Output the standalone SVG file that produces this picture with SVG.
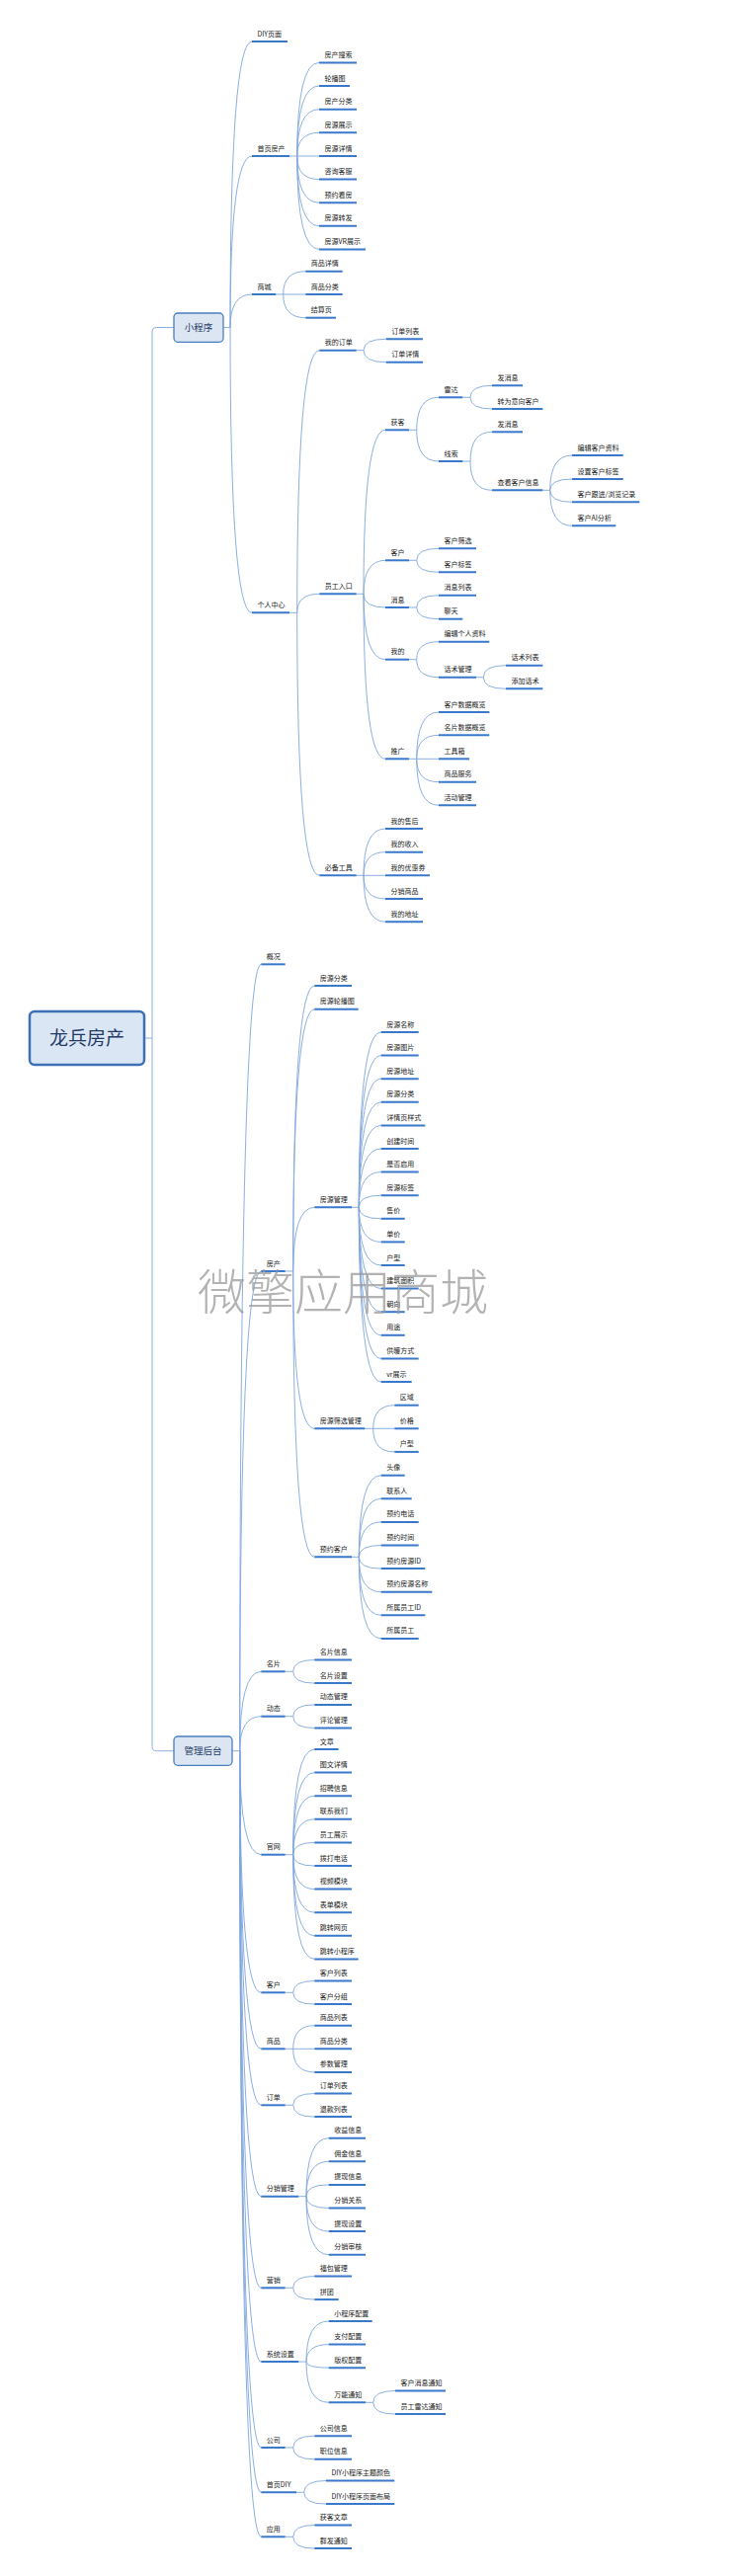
<svg xmlns="http://www.w3.org/2000/svg" width="750" height="2608" viewBox="0 0 750 2608">
<style>
.t{font-family:"Noto Sans CJK SC","Noto Sans",sans-serif;font-size:7px;fill:#222}
.u{stroke:#3a78cc;stroke-width:2}
.c{fill:none;stroke:#7fa6dc;stroke-width:0.9}
.box{fill:#dce6f2;stroke:#4a7ec0;stroke-width:1.3}
.bt{font-family:"Noto Sans CJK SC","Noto Sans",sans-serif;font-size:9.5px;fill:#1f3a66;text-anchor:middle}
</style>
<rect width="750" height="2608" fill="#fff"/>
<g id="connectors">
<path class="c" d="M146 1051 H154 V336 Q154 331.5 158.5 331.5 H176 M154 1051 V1768.2 Q154 1772.7 158.5 1772.7 H176"/>
<path class="c" d="M226 331.5 H233 M233 331.5 Q233 42 255 42 M233 331.5 Q233 158 255 158 M233 331.5 Q233 298 255 298 M233 331.5 Q233 620.3 255 620.3"/>
<path class="c" d="M293 158 H300.7 M300.7 158 Q300.7 63.4 323 63.4 M300.7 158 Q300.7 87 323 87 M300.7 158 Q300.7 110.7 323 110.7 M300.7 158 Q300.7 134.3 323 134.3 M300.7 158 L323 158 M300.7 158 Q300.7 181.6 323 181.6 M300.7 158 Q300.7 205.2 323 205.2 M300.7 158 Q300.7 228.8 323 228.8 M300.7 158 Q300.7 252.4 323 252.4"/>
<path class="c" d="M279.3 298 H286.7 M286.7 298 Q286.7 274.7 309.3 274.7 M286.7 298 L309.3 298 M286.7 298 Q286.7 321.7 309.3 321.7"/>
<path class="c" d="M293 620.3 H300.7 M300.7 620.3 Q300.7 354.7 323.3 354.7 M300.7 620.3 Q300.7 601.3 323.3 601.3 M300.7 620.3 Q300.7 886.3 323.3 886.3"/>
<path class="c" d="M360.7 354.7 H368 M368 354.7 Q368 343.3 390.7 343.3 M368 354.7 Q368 366.7 390.7 366.7"/>
<path class="c" d="M360.7 601.3 H368 M368 601.3 Q368 435.3 390 435.3 M368 601.3 Q368 567.3 390 567.3 M368 601.3 Q368 615 390 615 M368 601.3 Q368 667.7 390 667.7 M368 601.3 Q368 768.3 390 768.3"/>
<path class="c" d="M414 435.3 H421.7 M421.7 435.3 Q421.7 402.3 444 402.3 M421.7 435.3 Q421.7 467 444 467"/>
<path class="c" d="M468.3 402.3 H476 M476 402.3 Q476 390.3 498 390.3 M476 402.3 Q476 414 498 414"/>
<path class="c" d="M468.3 467 H476 M476 467 Q476 437.3 498 437.3 M476 467 Q476 496.3 498 496.3"/>
<path class="c" d="M549.3 496.3 H556.7 M556.7 496.3 Q556.7 461 579 461 M556.7 496.3 Q556.7 485 579 485 M556.7 496.3 Q556.7 508.3 579 508.3 M556.7 496.3 Q556.7 532.3 579 532.3"/>
<path class="c" d="M414 567.3 H421.7 M421.7 567.3 Q421.7 555.3 444 555.3 M421.7 567.3 Q421.7 579.3 444 579.3"/>
<path class="c" d="M414 615 H421.7 M421.7 615 Q421.7 602.7 444 602.7 M421.7 615 Q421.7 626.7 444 626.7"/>
<path class="c" d="M414 667.7 H421.7 M421.7 667.7 Q421.7 649.7 444 649.7 M421.7 667.7 Q421.7 685.7 444 685.7"/>
<path class="c" d="M482 685.7 H489.3 M489.3 685.7 Q489.3 673.7 512 673.7 M489.3 685.7 Q489.3 697.3 512 697.3"/>
<path class="c" d="M414 768.3 H421.7 M421.7 768.3 Q421.7 721 444 721 M421.7 768.3 Q421.7 744.3 444 744.3 M421.7 768.3 L444 768.3 M421.7 768.3 Q421.7 791.7 444 791.7 M421.7 768.3 Q421.7 815.3 444 815.3"/>
<path class="c" d="M360.7 886.3 H368 M368 886.3 Q368 839 390 839 M368 886.3 Q368 862.7 390 862.7 M368 886.3 L390 886.3 M368 886.3 Q368 910 390 910 M368 886.3 Q368 933.3 390 933.3"/>
<path class="c" d="M235 1772.7 H242.7 M242.7 1772.7 Q242.7 976.3 264.3 976.3 M242.7 1772.7 Q242.7 1287 264.3 1287 M242.7 1772.7 Q242.7 1692.3 264.3 1692.3 M242.7 1772.7 Q242.7 1737.7 264.3 1737.7 M242.7 1772.7 Q242.7 1877.7 264.3 1877.7 M242.7 1772.7 Q242.7 2017.3 264.3 2017.3 M242.7 1772.7 Q242.7 2074.3 264.3 2074.3 M242.7 1772.7 Q242.7 2131.3 264.3 2131.3 M242.7 1772.7 Q242.7 2223.7 264.3 2223.7 M242.7 1772.7 Q242.7 2316.3 264.3 2316.3 M242.7 1772.7 Q242.7 2391 264.3 2391 M242.7 1772.7 Q242.7 2478 264.3 2478 M242.7 1772.7 Q242.7 2523.3 264.3 2523.3 M242.7 1772.7 Q242.7 2568.3 264.3 2568.3"/>
<path class="c" d="M288.7 1287 H296.7 M296.7 1287 Q296.7 998 318.3 998 M296.7 1287 Q296.7 1021.7 318.3 1021.7 M296.7 1287 Q296.7 1222.3 318.3 1222.3 M296.7 1287 Q296.7 1446.3 318.3 1446.3 M296.7 1287 Q296.7 1576.3 318.3 1576.3"/>
<path class="c" d="M356 1222.3 H363.3 M363.3 1222.3 Q363.3 1045 385.7 1045 M363.3 1222.3 Q363.3 1068.6 385.7 1068.6 M363.3 1222.3 Q363.3 1092.2 385.7 1092.2 M363.3 1222.3 Q363.3 1115.8 385.7 1115.8 M363.3 1222.3 Q363.3 1139.4 385.7 1139.4 M363.3 1222.3 Q363.3 1163 385.7 1163 M363.3 1222.3 Q363.3 1186.6 385.7 1186.6 M363.3 1222.3 Q363.3 1210.2 385.7 1210.2 M363.3 1222.3 Q363.3 1233.8 385.7 1233.8 M363.3 1222.3 Q363.3 1257.4 385.7 1257.4 M363.3 1222.3 Q363.3 1281 385.7 1281 M363.3 1222.3 Q363.3 1304.6 385.7 1304.6 M363.3 1222.3 Q363.3 1328.2 385.7 1328.2 M363.3 1222.3 Q363.3 1351.8 385.7 1351.8 M363.3 1222.3 Q363.3 1375.4 385.7 1375.4 M363.3 1222.3 Q363.3 1399 385.7 1399"/>
<path class="c" d="M369.3 1446.3 H377.7 M377.7 1446.3 Q377.7 1422.7 399.3 1422.7 M377.7 1446.3 L399.3 1446.3 M377.7 1446.3 Q377.7 1469.9 399.3 1469.9"/>
<path class="c" d="M356 1576.3 H363.3 M363.3 1576.3 Q363.3 1493.7 385.7 1493.7 M363.3 1576.3 Q363.3 1517.3 385.7 1517.3 M363.3 1576.3 Q363.3 1540.9 385.7 1540.9 M363.3 1576.3 Q363.3 1564.5 385.7 1564.5 M363.3 1576.3 Q363.3 1588.1 385.7 1588.1 M363.3 1576.3 Q363.3 1611.7 385.7 1611.7 M363.3 1576.3 Q363.3 1635.3 385.7 1635.3 M363.3 1576.3 Q363.3 1658.9 385.7 1658.9"/>
<path class="c" d="M288.7 1692.3 H296.7 M296.7 1692.3 Q296.7 1680.5 318.3 1680.5 M296.7 1692.3 Q296.7 1704.1 318.3 1704.1"/>
<path class="c" d="M288.7 1737.7 H296.7 M296.7 1737.7 Q296.7 1725.9 318.3 1725.9 M296.7 1737.7 Q296.7 1749.5 318.3 1749.5"/>
<path class="c" d="M288.7 1877.7 H296.7 M296.7 1877.7 Q296.7 1771 318.3 1771 M296.7 1877.7 Q296.7 1794.6 318.3 1794.6 M296.7 1877.7 Q296.7 1818.2 318.3 1818.2 M296.7 1877.7 Q296.7 1841.8 318.3 1841.8 M296.7 1877.7 Q296.7 1865.4 318.3 1865.4 M296.7 1877.7 Q296.7 1889 318.3 1889 M296.7 1877.7 Q296.7 1912.6 318.3 1912.6 M296.7 1877.7 Q296.7 1936.2 318.3 1936.2 M296.7 1877.7 Q296.7 1959.8 318.3 1959.8 M296.7 1877.7 Q296.7 1983.4 318.3 1983.4"/>
<path class="c" d="M288.7 2017.3 H296.7 M296.7 2017.3 Q296.7 2005.5 318.3 2005.5 M296.7 2017.3 Q296.7 2029.1 318.3 2029.1"/>
<path class="c" d="M288.7 2074.3 H296.7 M296.7 2074.3 Q296.7 2050.7 318.3 2050.7 M296.7 2074.3 L318.3 2074.3 M296.7 2074.3 Q296.7 2097.9 318.3 2097.9"/>
<path class="c" d="M288.7 2131.3 H296.7 M296.7 2131.3 Q296.7 2119.5 318.3 2119.5 M296.7 2131.3 Q296.7 2143.1 318.3 2143.1"/>
<path class="c" d="M302.3 2223.7 H310 M310 2223.7 Q310 2164.7 332.7 2164.7 M310 2223.7 Q310 2188.3 332.7 2188.3 M310 2223.7 Q310 2211.9 332.7 2211.9 M310 2223.7 Q310 2235.5 332.7 2235.5 M310 2223.7 Q310 2259.1 332.7 2259.1 M310 2223.7 Q310 2282.7 332.7 2282.7"/>
<path class="c" d="M288.7 2316.3 H296.7 M296.7 2316.3 Q296.7 2304.5 318.3 2304.5 M296.7 2316.3 Q296.7 2328.1 318.3 2328.1"/>
<path class="c" d="M302.3 2391 H310 M310 2391 Q310 2350 332.7 2350 M310 2391 Q310 2373.6 332.7 2373.6 M310 2391 Q310 2397.2 332.7 2397.2 M310 2391 Q310 2432.3 332.7 2432.3"/>
<path class="c" d="M370 2432.3 H377.7 M377.7 2432.3 Q377.7 2420.5 400 2420.5 M377.7 2432.3 Q377.7 2444.1 400 2444.1"/>
<path class="c" d="M288.7 2478 H296.7 M296.7 2478 Q296.7 2466.2 318.3 2466.2 M296.7 2478 Q296.7 2489.8 318.3 2489.8"/>
<path class="c" d="M300 2523.3 H307.7 M307.7 2523.3 Q307.7 2511.5 330 2511.5 M307.7 2523.3 Q307.7 2535.1 330 2535.1"/>
<path class="c" d="M288.7 2568.3 H296.7 M296.7 2568.3 Q296.7 2556.5 318.3 2556.5 M296.7 2568.3 Q296.7 2580.1 318.3 2580.1"/>
</g>
<g id="root"><rect x="30" y="1024" width="116" height="54" rx="5" fill="#dbe6f4" stroke="#3d6fb5" stroke-width="2.5"/><text x="88" y="1058" font-family="Noto Sans CJK SC,Noto Sans,sans-serif" font-size="19" fill="#1f3a66" text-anchor="middle">龙兵房产</text></g>
<g id="mp"><rect class="box" x="176" y="317" width="50" height="29.3" rx="4"/><text class="bt" x="201" y="335">小程序</text></g>
<g id="admin"><rect class="box" x="176" y="1758" width="59" height="29.3" rx="4"/><text class="bt" x="205.5" y="1776">管理后台</text></g>
<g id="mp-diy"><text class="t" x="260.5" y="36.5">DIY页面</text><line class="u" x1="255" y1="42" x2="291" y2="42"/></g>
<g id="mp-home"><text class="t" x="260.5" y="152.5">首页房产</text><line class="u" x1="255" y1="158" x2="293" y2="158"/></g>
<g id="mp-h1"><text class="t" x="328.5" y="57.9">房产搜索</text><line class="u" x1="323" y1="63.4" x2="361" y2="63.4"/></g>
<g id="mp-h2"><text class="t" x="328.5" y="81.5">轮播图</text><line class="u" x1="323" y1="87" x2="354" y2="87"/></g>
<g id="mp-h3"><text class="t" x="328.5" y="105.2">房产分类</text><line class="u" x1="323" y1="110.7" x2="361" y2="110.7"/></g>
<g id="mp-h4"><text class="t" x="328.5" y="128.8">房源展示</text><line class="u" x1="323" y1="134.3" x2="361" y2="134.3"/></g>
<g id="mp-h5"><text class="t" x="328.5" y="152.5">房源详情</text><line class="u" x1="323" y1="158" x2="361" y2="158"/></g>
<g id="mp-h6"><text class="t" x="328.5" y="176.1">咨询客服</text><line class="u" x1="323" y1="181.6" x2="361" y2="181.6"/></g>
<g id="mp-h7"><text class="t" x="328.5" y="199.7">预约看房</text><line class="u" x1="323" y1="205.2" x2="361" y2="205.2"/></g>
<g id="mp-h8"><text class="t" x="328.5" y="223.3">房源转发</text><line class="u" x1="323" y1="228.8" x2="361" y2="228.8"/></g>
<g id="mp-h9"><text class="t" x="328.5" y="246.9">房源VR展示</text><line class="u" x1="323" y1="252.4" x2="370" y2="252.4"/></g>
<g id="mp-shop"><text class="t" x="260.5" y="292.5">商城</text><line class="u" x1="255" y1="298" x2="279.3" y2="298"/></g>
<g id="mp-s1"><text class="t" x="314.8" y="269.2">商品详情</text><line class="u" x1="309.3" y1="274.7" x2="346.7" y2="274.7"/></g>
<g id="mp-s2"><text class="t" x="314.8" y="292.5">商品分类</text><line class="u" x1="309.3" y1="298" x2="346.7" y2="298"/></g>
<g id="mp-s3"><text class="t" x="314.8" y="316.2">结算页</text><line class="u" x1="309.3" y1="321.7" x2="340" y2="321.7"/></g>
<g id="mp-me"><text class="t" x="260.5" y="614.8">个人中心</text><line class="u" x1="255" y1="620.3" x2="293" y2="620.3"/></g>
<g id="mp-order"><text class="t" x="328.8" y="349.2">我的订单</text><line class="u" x1="323.3" y1="354.7" x2="360.7" y2="354.7"/></g>
<g id="mp-o1"><text class="t" x="396.2" y="337.8">订单列表</text><line class="u" x1="390.7" y1="343.3" x2="428" y2="343.3"/></g>
<g id="mp-o2"><text class="t" x="396.2" y="361.2">订单详情</text><line class="u" x1="390.7" y1="366.7" x2="428" y2="366.7"/></g>
<g id="mp-staff"><text class="t" x="328.8" y="595.8">员工入口</text><line class="u" x1="323.3" y1="601.3" x2="360.7" y2="601.3"/></g>
<g id="mp-get"><text class="t" x="395.5" y="429.8">获客</text><line class="u" x1="390" y1="435.3" x2="414" y2="435.3"/></g>
<g id="mp-radar"><text class="t" x="449.5" y="396.8">雷达</text><line class="u" x1="444" y1="402.3" x2="468.3" y2="402.3"/></g>
<g id="mp-r1"><text class="t" x="503.5" y="384.8">发消息</text><line class="u" x1="498" y1="390.3" x2="529" y2="390.3"/></g>
<g id="mp-r2"><text class="t" x="503.5" y="408.5">转为意向客户</text><line class="u" x1="498" y1="414" x2="549.3" y2="414"/></g>
<g id="mp-clue"><text class="t" x="449.5" y="461.5">线索</text><line class="u" x1="444" y1="467" x2="468.3" y2="467"/></g>
<g id="mp-c1"><text class="t" x="503.5" y="431.8">发消息</text><line class="u" x1="498" y1="437.3" x2="529" y2="437.3"/></g>
<g id="mp-c2"><text class="t" x="503.5" y="490.8">查看客户信息</text><line class="u" x1="498" y1="496.3" x2="549.3" y2="496.3"/></g>
<g id="mp-ci1"><text class="t" x="584.5" y="455.5">编辑客户资料</text><line class="u" x1="579" y1="461" x2="630.7" y2="461"/></g>
<g id="mp-ci2"><text class="t" x="584.5" y="479.5">设置客户标签</text><line class="u" x1="579" y1="485" x2="630.7" y2="485"/></g>
<g id="mp-ci3"><text class="t" x="584.5" y="502.8">客户跟进/浏览记录</text><line class="u" x1="579" y1="508.3" x2="647.3" y2="508.3"/></g>
<g id="mp-ci4"><text class="t" x="584.5" y="526.8">客户AI分析</text><line class="u" x1="579" y1="532.3" x2="623.3" y2="532.3"/></g>
<g id="mp-cust"><text class="t" x="395.5" y="561.8">客户</text><line class="u" x1="390" y1="567.3" x2="414" y2="567.3"/></g>
<g id="mp-cu1"><text class="t" x="449.5" y="549.8">客户筛选</text><line class="u" x1="444" y1="555.3" x2="482" y2="555.3"/></g>
<g id="mp-cu2"><text class="t" x="449.5" y="573.8">客户标签</text><line class="u" x1="444" y1="579.3" x2="482" y2="579.3"/></g>
<g id="mp-msg"><text class="t" x="395.5" y="609.5">消息</text><line class="u" x1="390" y1="615" x2="414" y2="615"/></g>
<g id="mp-m1"><text class="t" x="449.5" y="597.2">消息列表</text><line class="u" x1="444" y1="602.7" x2="482" y2="602.7"/></g>
<g id="mp-m2"><text class="t" x="449.5" y="621.2">聊天</text><line class="u" x1="444" y1="626.7" x2="468.3" y2="626.7"/></g>
<g id="mp-mine"><text class="t" x="395.5" y="662.2">我的</text><line class="u" x1="390" y1="667.7" x2="414" y2="667.7"/></g>
<g id="mp-mi1"><text class="t" x="449.5" y="644.2">编辑个人资料</text><line class="u" x1="444" y1="649.7" x2="495.3" y2="649.7"/></g>
<g id="mp-mi2"><text class="t" x="449.5" y="680.2">话术管理</text><line class="u" x1="444" y1="685.7" x2="482" y2="685.7"/></g>
<g id="mp-sp1"><text class="t" x="517.5" y="668.2">话术列表</text><line class="u" x1="512" y1="673.7" x2="549.3" y2="673.7"/></g>
<g id="mp-sp2"><text class="t" x="517.5" y="691.8">添加话术</text><line class="u" x1="512" y1="697.3" x2="549.3" y2="697.3"/></g>
<g id="mp-promo"><text class="t" x="395.5" y="762.8">推广</text><line class="u" x1="390" y1="768.3" x2="414" y2="768.3"/></g>
<g id="mp-p1"><text class="t" x="449.5" y="715.5">客户数据概览</text><line class="u" x1="444" y1="721" x2="495.3" y2="721"/></g>
<g id="mp-p2"><text class="t" x="449.5" y="738.8">名片数据概览</text><line class="u" x1="444" y1="744.3" x2="495.3" y2="744.3"/></g>
<g id="mp-p3"><text class="t" x="449.5" y="762.8">工具箱</text><line class="u" x1="444" y1="768.3" x2="475" y2="768.3"/></g>
<g id="mp-p4"><text class="t" x="449.5" y="786.2">商品服务</text><line class="u" x1="444" y1="791.7" x2="482" y2="791.7"/></g>
<g id="mp-p5"><text class="t" x="449.5" y="809.8">活动管理</text><line class="u" x1="444" y1="815.3" x2="482" y2="815.3"/></g>
<g id="mp-tools"><text class="t" x="328.8" y="880.8">必备工具</text><line class="u" x1="323.3" y1="886.3" x2="360.7" y2="886.3"/></g>
<g id="mp-t1"><text class="t" x="395.5" y="833.5">我的售后</text><line class="u" x1="390" y1="839" x2="428" y2="839"/></g>
<g id="mp-t2"><text class="t" x="395.5" y="857.2">我的收入</text><line class="u" x1="390" y1="862.7" x2="428" y2="862.7"/></g>
<g id="mp-t3"><text class="t" x="395.5" y="880.8">我的优惠券</text><line class="u" x1="390" y1="886.3" x2="435" y2="886.3"/></g>
<g id="mp-t4"><text class="t" x="395.5" y="904.5">分销商品</text><line class="u" x1="390" y1="910" x2="428" y2="910"/></g>
<g id="mp-t5"><text class="t" x="395.5" y="927.8">我的地址</text><line class="u" x1="390" y1="933.3" x2="428" y2="933.3"/></g>
<g id="ad-overview"><text class="t" x="269.8" y="970.8">概况</text><line class="u" x1="264.3" y1="976.3" x2="288.7" y2="976.3"/></g>
<g id="ad-house"><text class="t" x="269.8" y="1281.5">房产</text><line class="u" x1="264.3" y1="1287" x2="288.7" y2="1287"/></g>
<g id="ad-h1"><text class="t" x="323.8" y="992.5">房源分类</text><line class="u" x1="318.3" y1="998" x2="356" y2="998"/></g>
<g id="ad-h2"><text class="t" x="323.8" y="1016.2">房源轮播图</text><line class="u" x1="318.3" y1="1021.7" x2="362.7" y2="1021.7"/></g>
<g id="ad-hm"><text class="t" x="323.8" y="1216.8">房源管理</text><line class="u" x1="318.3" y1="1222.3" x2="356" y2="1222.3"/></g>
<g id="ad-hm1"><text class="t" x="391.2" y="1039.5">房源名称</text><line class="u" x1="385.7" y1="1045" x2="423.7" y2="1045"/></g>
<g id="ad-hm2"><text class="t" x="391.2" y="1063.1">房源图片</text><line class="u" x1="385.7" y1="1068.6" x2="423.7" y2="1068.6"/></g>
<g id="ad-hm3"><text class="t" x="391.2" y="1086.7">房源地址</text><line class="u" x1="385.7" y1="1092.2" x2="423.7" y2="1092.2"/></g>
<g id="ad-hm4"><text class="t" x="391.2" y="1110.3">房源分类</text><line class="u" x1="385.7" y1="1115.8" x2="423.7" y2="1115.8"/></g>
<g id="ad-hm5"><text class="t" x="391.2" y="1133.9">详情页样式</text><line class="u" x1="385.7" y1="1139.4" x2="430.3" y2="1139.4"/></g>
<g id="ad-hm6"><text class="t" x="391.2" y="1157.5">创建时间</text><line class="u" x1="385.7" y1="1163" x2="423.7" y2="1163"/></g>
<g id="ad-hm7"><text class="t" x="391.2" y="1181.1">是否启用</text><line class="u" x1="385.7" y1="1186.6" x2="423.7" y2="1186.6"/></g>
<g id="ad-hm8"><text class="t" x="391.2" y="1204.7">房源标签</text><line class="u" x1="385.7" y1="1210.2" x2="423.7" y2="1210.2"/></g>
<g id="ad-hm9"><text class="t" x="391.2" y="1228.3">售价</text><line class="u" x1="385.7" y1="1233.8" x2="409.7" y2="1233.8"/></g>
<g id="ad-hm10"><text class="t" x="391.2" y="1251.9">单价</text><line class="u" x1="385.7" y1="1257.4" x2="409.7" y2="1257.4"/></g>
<g id="ad-hm11"><text class="t" x="391.2" y="1275.5">户型</text><line class="u" x1="385.7" y1="1281" x2="409.7" y2="1281"/></g>
<g id="ad-hm12"><text class="t" x="391.2" y="1299.1">建筑面积</text><line class="u" x1="385.7" y1="1304.6" x2="423.7" y2="1304.6"/></g>
<g id="ad-hm13"><text class="t" x="391.2" y="1322.7">朝向</text><line class="u" x1="385.7" y1="1328.2" x2="409.7" y2="1328.2"/></g>
<g id="ad-hm14"><text class="t" x="391.2" y="1346.3">用途</text><line class="u" x1="385.7" y1="1351.8" x2="409.7" y2="1351.8"/></g>
<g id="ad-hm15"><text class="t" x="391.2" y="1369.9">供暖方式</text><line class="u" x1="385.7" y1="1375.4" x2="423.7" y2="1375.4"/></g>
<g id="ad-hm16"><text class="t" x="391.2" y="1393.5">vr展示</text><line class="u" x1="385.7" y1="1399" x2="416.7" y2="1399"/></g>
<g id="ad-hf"><text class="t" x="323.8" y="1440.8">房源筛选管理</text><line class="u" x1="318.3" y1="1446.3" x2="369.3" y2="1446.3"/></g>
<g id="ad-hf1"><text class="t" x="404.8" y="1417.2">区域</text><line class="u" x1="399.3" y1="1422.7" x2="423.7" y2="1422.7"/></g>
<g id="ad-hf2"><text class="t" x="404.8" y="1440.8">价格</text><line class="u" x1="399.3" y1="1446.3" x2="423.7" y2="1446.3"/></g>
<g id="ad-hf3"><text class="t" x="404.8" y="1464.4">户型</text><line class="u" x1="399.3" y1="1469.9" x2="423.7" y2="1469.9"/></g>
<g id="ad-hr"><text class="t" x="323.8" y="1570.8">预约客户</text><line class="u" x1="318.3" y1="1576.3" x2="356" y2="1576.3"/></g>
<g id="ad-hr1"><text class="t" x="391.2" y="1488.2">头像</text><line class="u" x1="385.7" y1="1493.7" x2="409.7" y2="1493.7"/></g>
<g id="ad-hr2"><text class="t" x="391.2" y="1511.8">联系人</text><line class="u" x1="385.7" y1="1517.3" x2="416.7" y2="1517.3"/></g>
<g id="ad-hr3"><text class="t" x="391.2" y="1535.4">预约电话</text><line class="u" x1="385.7" y1="1540.9" x2="423.7" y2="1540.9"/></g>
<g id="ad-hr4"><text class="t" x="391.2" y="1559">预约时间</text><line class="u" x1="385.7" y1="1564.5" x2="423.7" y2="1564.5"/></g>
<g id="ad-hr5"><text class="t" x="391.2" y="1582.6">预约房源ID</text><line class="u" x1="385.7" y1="1588.1" x2="430.3" y2="1588.1"/></g>
<g id="ad-hr6"><text class="t" x="391.2" y="1606.2">预约房源名称</text><line class="u" x1="385.7" y1="1611.7" x2="437.3" y2="1611.7"/></g>
<g id="ad-hr7"><text class="t" x="391.2" y="1629.8">所属员工ID</text><line class="u" x1="385.7" y1="1635.3" x2="430.3" y2="1635.3"/></g>
<g id="ad-hr8"><text class="t" x="391.2" y="1653.4">所属员工</text><line class="u" x1="385.7" y1="1658.9" x2="423.7" y2="1658.9"/></g>
<g id="ad-card"><text class="t" x="269.8" y="1686.8">名片</text><line class="u" x1="264.3" y1="1692.3" x2="288.7" y2="1692.3"/></g>
<g id="ad-card1"><text class="t" x="323.8" y="1675">名片信息</text><line class="u" x1="318.3" y1="1680.5" x2="356" y2="1680.5"/></g>
<g id="ad-card2"><text class="t" x="323.8" y="1698.6">名片设置</text><line class="u" x1="318.3" y1="1704.1" x2="356" y2="1704.1"/></g>
<g id="ad-dyn"><text class="t" x="269.8" y="1732.2">动态</text><line class="u" x1="264.3" y1="1737.7" x2="288.7" y2="1737.7"/></g>
<g id="ad-dyn1"><text class="t" x="323.8" y="1720.4">动态管理</text><line class="u" x1="318.3" y1="1725.9" x2="356" y2="1725.9"/></g>
<g id="ad-dyn2"><text class="t" x="323.8" y="1744">评论管理</text><line class="u" x1="318.3" y1="1749.5" x2="356" y2="1749.5"/></g>
<g id="ad-web"><text class="t" x="269.8" y="1872.2">官网</text><line class="u" x1="264.3" y1="1877.7" x2="288.7" y2="1877.7"/></g>
<g id="ad-w1"><text class="t" x="323.8" y="1765.5">文章</text><line class="u" x1="318.3" y1="1771" x2="342.7" y2="1771"/></g>
<g id="ad-w2"><text class="t" x="323.8" y="1789.1">图文详情</text><line class="u" x1="318.3" y1="1794.6" x2="356" y2="1794.6"/></g>
<g id="ad-w3"><text class="t" x="323.8" y="1812.7">招聘信息</text><line class="u" x1="318.3" y1="1818.2" x2="356" y2="1818.2"/></g>
<g id="ad-w4"><text class="t" x="323.8" y="1836.3">联系我们</text><line class="u" x1="318.3" y1="1841.8" x2="356" y2="1841.8"/></g>
<g id="ad-w5"><text class="t" x="323.8" y="1859.9">员工展示</text><line class="u" x1="318.3" y1="1865.4" x2="356" y2="1865.4"/></g>
<g id="ad-w6"><text class="t" x="323.8" y="1883.5">拨打电话</text><line class="u" x1="318.3" y1="1889" x2="356" y2="1889"/></g>
<g id="ad-w7"><text class="t" x="323.8" y="1907.1">视频模块</text><line class="u" x1="318.3" y1="1912.6" x2="356" y2="1912.6"/></g>
<g id="ad-w8"><text class="t" x="323.8" y="1930.7">表单模块</text><line class="u" x1="318.3" y1="1936.2" x2="356" y2="1936.2"/></g>
<g id="ad-w9"><text class="t" x="323.8" y="1954.3">跳转网页</text><line class="u" x1="318.3" y1="1959.8" x2="356" y2="1959.8"/></g>
<g id="ad-w10"><text class="t" x="323.8" y="1977.9">跳转小程序</text><line class="u" x1="318.3" y1="1983.4" x2="362.7" y2="1983.4"/></g>
<g id="ad-cust"><text class="t" x="269.8" y="2011.8">客户</text><line class="u" x1="264.3" y1="2017.3" x2="288.7" y2="2017.3"/></g>
<g id="ad-cu1"><text class="t" x="323.8" y="2000">客户列表</text><line class="u" x1="318.3" y1="2005.5" x2="356" y2="2005.5"/></g>
<g id="ad-cu2"><text class="t" x="323.8" y="2023.6">客户分组</text><line class="u" x1="318.3" y1="2029.1" x2="356" y2="2029.1"/></g>
<g id="ad-goods"><text class="t" x="269.8" y="2068.8">商品</text><line class="u" x1="264.3" y1="2074.3" x2="288.7" y2="2074.3"/></g>
<g id="ad-g1"><text class="t" x="323.8" y="2045.2">商品列表</text><line class="u" x1="318.3" y1="2050.7" x2="356" y2="2050.7"/></g>
<g id="ad-g2"><text class="t" x="323.8" y="2068.8">商品分类</text><line class="u" x1="318.3" y1="2074.3" x2="356" y2="2074.3"/></g>
<g id="ad-g3"><text class="t" x="323.8" y="2092.4">参数管理</text><line class="u" x1="318.3" y1="2097.9" x2="356" y2="2097.9"/></g>
<g id="ad-order"><text class="t" x="269.8" y="2125.8">订单</text><line class="u" x1="264.3" y1="2131.3" x2="288.7" y2="2131.3"/></g>
<g id="ad-o1"><text class="t" x="323.8" y="2114">订单列表</text><line class="u" x1="318.3" y1="2119.5" x2="356" y2="2119.5"/></g>
<g id="ad-o2"><text class="t" x="323.8" y="2137.6">退款列表</text><line class="u" x1="318.3" y1="2143.1" x2="356" y2="2143.1"/></g>
<g id="ad-dist"><text class="t" x="269.8" y="2218.2">分销管理</text><line class="u" x1="264.3" y1="2223.7" x2="302.3" y2="2223.7"/></g>
<g id="ad-d1"><text class="t" x="338.2" y="2159.2">收益信息</text><line class="u" x1="332.7" y1="2164.7" x2="370" y2="2164.7"/></g>
<g id="ad-d2"><text class="t" x="338.2" y="2182.8">佣金信息</text><line class="u" x1="332.7" y1="2188.3" x2="370" y2="2188.3"/></g>
<g id="ad-d3"><text class="t" x="338.2" y="2206.4">提现信息</text><line class="u" x1="332.7" y1="2211.9" x2="370" y2="2211.9"/></g>
<g id="ad-d4"><text class="t" x="338.2" y="2230">分销关系</text><line class="u" x1="332.7" y1="2235.5" x2="370" y2="2235.5"/></g>
<g id="ad-d5"><text class="t" x="338.2" y="2253.6">提现设置</text><line class="u" x1="332.7" y1="2259.1" x2="370" y2="2259.1"/></g>
<g id="ad-d6"><text class="t" x="338.2" y="2277.2">分销审核</text><line class="u" x1="332.7" y1="2282.7" x2="370" y2="2282.7"/></g>
<g id="ad-mkt"><text class="t" x="269.8" y="2310.8">营销</text><line class="u" x1="264.3" y1="2316.3" x2="288.7" y2="2316.3"/></g>
<g id="ad-mk1"><text class="t" x="323.8" y="2299">福包管理</text><line class="u" x1="318.3" y1="2304.5" x2="356" y2="2304.5"/></g>
<g id="ad-mk2"><text class="t" x="323.8" y="2322.6">拼团</text><line class="u" x1="318.3" y1="2328.1" x2="342.7" y2="2328.1"/></g>
<g id="ad-sys"><text class="t" x="269.8" y="2385.5">系统设置</text><line class="u" x1="264.3" y1="2391" x2="302.3" y2="2391"/></g>
<g id="ad-s1"><text class="t" x="338.2" y="2344.5">小程序配置</text><line class="u" x1="332.7" y1="2350" x2="376.7" y2="2350"/></g>
<g id="ad-s2"><text class="t" x="338.2" y="2368.1">支付配置</text><line class="u" x1="332.7" y1="2373.6" x2="370" y2="2373.6"/></g>
<g id="ad-s3"><text class="t" x="338.2" y="2391.7">版权配置</text><line class="u" x1="332.7" y1="2397.2" x2="370" y2="2397.2"/></g>
<g id="ad-s4"><text class="t" x="338.2" y="2426.8">万能通知</text><line class="u" x1="332.7" y1="2432.3" x2="370" y2="2432.3"/></g>
<g id="ad-n1"><text class="t" x="405.5" y="2415">客户消息通知</text><line class="u" x1="400" y1="2420.5" x2="451" y2="2420.5"/></g>
<g id="ad-n2"><text class="t" x="405.5" y="2438.6">员工雷达通知</text><line class="u" x1="400" y1="2444.1" x2="451" y2="2444.1"/></g>
<g id="ad-co"><text class="t" x="269.8" y="2472.5">公司</text><line class="u" x1="264.3" y1="2478" x2="288.7" y2="2478"/></g>
<g id="ad-co1"><text class="t" x="323.8" y="2460.7">公司信息</text><line class="u" x1="318.3" y1="2466.2" x2="356" y2="2466.2"/></g>
<g id="ad-co2"><text class="t" x="323.8" y="2484.3">职位信息</text><line class="u" x1="318.3" y1="2489.8" x2="356" y2="2489.8"/></g>
<g id="ad-diy"><text class="t" x="269.8" y="2517.8">首页DIY</text><line class="u" x1="264.3" y1="2523.3" x2="300" y2="2523.3"/></g>
<g id="ad-diy1"><text class="t" x="335.5" y="2506">DIY小程序主题颜色</text><line class="u" x1="330" y1="2511.5" x2="399.3" y2="2511.5"/></g>
<g id="ad-diy2"><text class="t" x="335.5" y="2529.6">DIY小程序页面布局</text><line class="u" x1="330" y1="2535.1" x2="399.3" y2="2535.1"/></g>
<g id="ad-app"><text class="t" x="269.8" y="2562.8">应用</text><line class="u" x1="264.3" y1="2568.3" x2="288.7" y2="2568.3"/></g>
<g id="ad-a1"><text class="t" x="323.8" y="2551">获客文章</text><line class="u" x1="318.3" y1="2556.5" x2="356" y2="2556.5"/></g>
<g id="ad-a2"><text class="t" x="323.8" y="2574.6">群发通知</text><line class="u" x1="318.3" y1="2580.1" x2="356" y2="2580.1"/></g>
<text x="200" y="1326" font-family="Noto Sans CJK SC,Noto Sans,sans-serif" font-size="49" font-weight="300" fill="#9a9a9a" fill-opacity="0.75">微擎应用商城</text>
</svg>
